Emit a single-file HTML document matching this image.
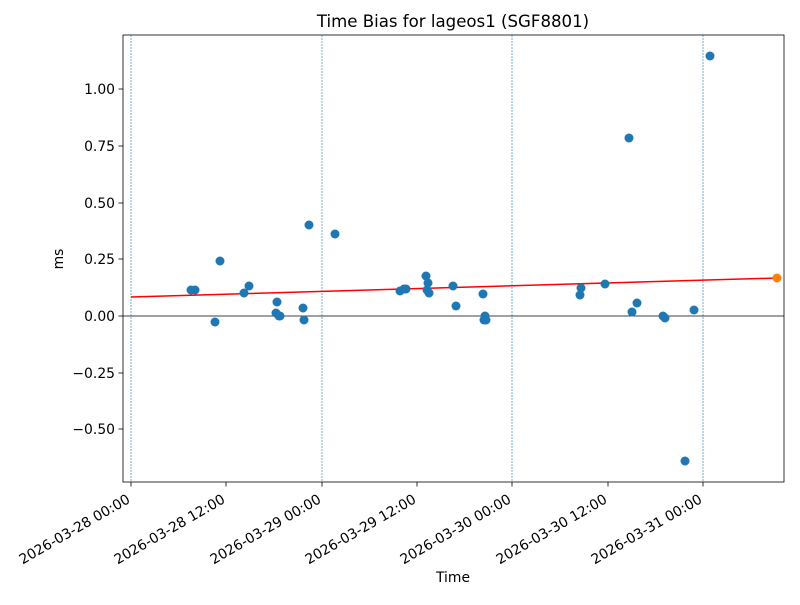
<!DOCTYPE html>
<html><head><style>body{margin:0;background:#fff}svg{font-family:"DejaVu Sans","Liberation Sans",sans-serif}</style></head>
<body>
<svg width="800" height="600" viewBox="0 0 800 600" xmlns="http://www.w3.org/2000/svg">
<rect width="800" height="600" fill="#fff"/>
<text x="453" y="27" font-size="16.6" text-anchor="middle">Time Bias for lageos1 (SGF8801)</text>
<g stroke="#1f77b4" stroke-width="0.6" stroke-dasharray="2,1">
<line x1="131" y1="35" x2="131" y2="482"/><line x1="322" y1="35" x2="322" y2="482"/>
<line x1="512" y1="35" x2="512" y2="482"/><line x1="703" y1="35" x2="703" y2="482"/>
</g>
<line x1="123" y1="316" x2="784" y2="316" stroke="#000" stroke-width="0.7"/>
<line x1="131" y1="297" x2="777" y2="278" stroke="red" stroke-width="1.5"/>
<g fill="#1f77b4">
<circle cx="191" cy="290" r="4.5"/><circle cx="195" cy="290" r="4.5"/><circle cx="215" cy="322" r="4.5"/><circle cx="220" cy="261" r="4.5"/><circle cx="244" cy="293" r="4.5"/><circle cx="249" cy="286" r="4.5"/><circle cx="277" cy="302" r="4.5"/><circle cx="276" cy="313" r="4.5"/><circle cx="279" cy="316" r="4.5"/><circle cx="280" cy="316" r="4.5"/><circle cx="303" cy="308" r="4.5"/><circle cx="304" cy="320" r="4.5"/><circle cx="309" cy="225" r="4.5"/><circle cx="335" cy="234" r="4.5"/><circle cx="400" cy="291" r="4.5"/><circle cx="404" cy="289" r="4.5"/><circle cx="406" cy="289" r="4.5"/><circle cx="426" cy="276" r="4.5"/><circle cx="428" cy="283" r="4.5"/><circle cx="427" cy="290" r="4.5"/><circle cx="429" cy="293" r="4.5"/><circle cx="453" cy="286" r="4.5"/><circle cx="456" cy="306" r="4.5"/><circle cx="483" cy="294" r="4.5"/><circle cx="485" cy="316" r="4.5"/><circle cx="484" cy="320" r="4.5"/><circle cx="486" cy="320" r="4.5"/><circle cx="580" cy="295" r="4.5"/><circle cx="581" cy="288" r="4.5"/><circle cx="605" cy="284" r="4.5"/><circle cx="629" cy="138" r="4.5"/><circle cx="632" cy="312" r="4.5"/><circle cx="637" cy="303" r="4.5"/><circle cx="663" cy="316" r="4.5"/><circle cx="665" cy="318" r="4.5"/><circle cx="685" cy="461" r="4.5"/><circle cx="694" cy="310" r="4.5"/><circle cx="710" cy="56" r="4.5"/>
</g>
<circle cx="777" cy="278" r="4.5" fill="#ff7f0e"/>
<rect x="123" y="35" width="661" height="447" fill="none" stroke="#000" stroke-width="0.8"/>
<g stroke="#000" stroke-width="0.8">
<line x1="118.5" y1="89" x2="123" y2="89"/><line x1="118.5" y1="146" x2="123" y2="146"/><line x1="118.5" y1="203" x2="123" y2="203"/><line x1="118.5" y1="259" x2="123" y2="259"/><line x1="118.5" y1="316" x2="123" y2="316"/><line x1="118.5" y1="373" x2="123" y2="373"/><line x1="118.5" y1="429" x2="123" y2="429"/>
<line x1="131" y1="482" x2="131" y2="486.5"/><line x1="226" y1="482" x2="226" y2="486.5"/><line x1="322" y1="482" x2="322" y2="486.5"/><line x1="417" y1="482" x2="417" y2="486.5"/><line x1="512" y1="482" x2="512" y2="486.5"/><line x1="608" y1="482" x2="608" y2="486.5"/><line x1="703" y1="482" x2="703" y2="486.5"/>
</g>
<g font-size="13.9" text-anchor="end">
<text x="115" y="94">1.00</text><text x="115" y="151">0.75</text><text x="115" y="208">0.50</text><text x="115" y="264">0.25</text><text x="115" y="321">0.00</text><text x="115" y="378">−0.25</text><text x="115" y="434">−0.50</text>
<text transform="translate(131,502) rotate(-30)">2026-03-28 00:00</text>
<text transform="translate(226,502) rotate(-30)">2026-03-28 12:00</text>
<text transform="translate(322,502) rotate(-30)">2026-03-29 00:00</text>
<text transform="translate(417,502) rotate(-30)">2026-03-29 12:00</text>
<text transform="translate(512,502) rotate(-30)">2026-03-30 00:00</text>
<text transform="translate(608,502) rotate(-30)">2026-03-30 12:00</text>
<text transform="translate(703,502) rotate(-30)">2026-03-31 00:00</text>
</g>
<text x="453" y="582" font-size="13.9" text-anchor="middle">Time</text>
<text transform="translate(63,259) rotate(-90)" font-size="13.9" text-anchor="middle">ms</text>
</svg>
</body></html>
